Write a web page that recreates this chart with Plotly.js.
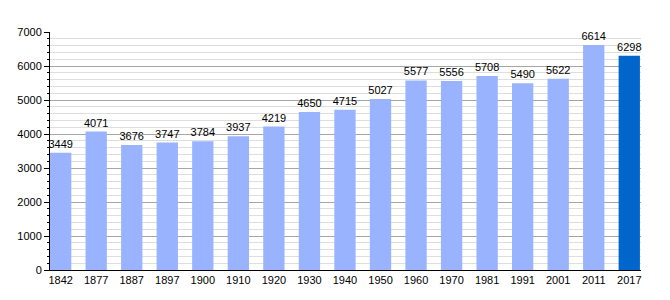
<!DOCTYPE html>
<html>
<head>
<meta charset="utf-8">
<script src="https://cdn.plot.ly/plotly-3.0.1.min.js"></script>
<style>html,body{margin:0;padding:0;background:#fff;}#chart{width:670px;height:300px;}</style>
</head>
<body>
<div id="chart"></div>
<script>
const years = ["1842","1877","1887","1897","1900","1910","1920","1930","1940","1950","1960","1970","1981","1991","2001","2011","2017"];
const population = [3449,4071,3676,3747,3784,3937,4219,4650,4715,5027,5577,5556,5708,5490,5622,6614,6298];
const barColors = years.map((y, i) => i === years.length - 1 ? "#0066CC" : "#99B3FF");

const trace = {
  type: "bar",
  x: years.map((y, i) => i),
  y: population,
  width: 0.6,
  marker: {color: barColors, line: {width: 0}},
  text: population.map(String),
  textposition: "outside",
  constraintext: "none",
  textfont: {family: "Liberation Sans, Arial, sans-serif", size: 11, color: "#000"},
  cliponaxis: false,
  hoverinfo: "none"
};

const layout = {
  width: 670, height: 300,
  margin: {l: 50, r: 29, t: 32, b: 30, pad: 0},
  paper_bgcolor: "#fff", plot_bgcolor: "#fff",
  showlegend: false,
  font: {family: "Liberation Sans, Arial, sans-serif", size: 11, color: "#000"},
  xaxis: {
    range: [-0.3, 16.33],
    tickmode: "array",
    tickvals: years.map((y, i) => i),
    ticktext: years,
    showgrid: false,
    zeroline: false,
    showline: true, linecolor: "#000", linewidth: 1,
    ticks: "", ticklen: 0,
    tickfont: {size: 11, color: "#000"}
  },
  yaxis: {
    range: [0, 7000],
    dtick: 1000,
    showgrid: true, gridcolor: "#a6a6a6", gridwidth: 1,
    zeroline: false,
    showline: true, linecolor: "#000", linewidth: 1,
    ticks: "outside", ticklen: 5, tickcolor: "#000",
    tickfont: {size: 11, color: "#000"},
    minor: {dtick: 200, showgrid: true, gridcolor: "#dedede", gridwidth: 1, ticks: "outside", ticklen: 2, tickcolor: "#000"}
  },
  bargap: 0.4
};

Plotly.newPlot("chart", [trace], layout, {staticPlot: true, displayModeBar: false});
</script>
</body>
</html>
